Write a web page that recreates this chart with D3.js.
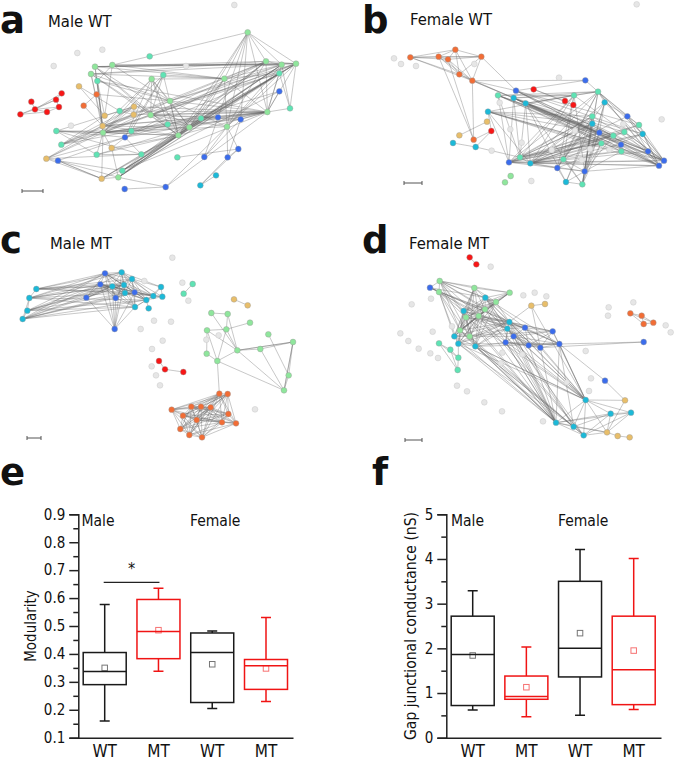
<!DOCTYPE html>
<html><head><meta charset="utf-8">
<script src="https://cdn.jsdelivr.net/npm/d3@7"></script>
<style>html,body{margin:0;padding:0;background:#fff}svg{display:block}
text{font-family:"DejaVu Sans Condensed","DejaVu Sans",sans-serif;font-stretch:condensed;fill:#111}</style></head><body>
<svg id="c" width="675" height="760"><defs><filter id="soft" x="-5%" y="-5%" width="110%" height="110%"><feGaussianBlur stdDeviation="0.3"/></filter></defs></svg>
<script>
// community colours
const palette={G:"#8fe69c",M:"#5fe3b4",B:"#3a6cec",C:"#1ab9d8",T:"#e8be6a",O:"#f26d36",R:"#f81212",X:"#e6e6e6"};

// network a: Male WT
const nodesA=[[743,97,"G"],[798,184,"G"],[845,194,"G"],[888,191,"G"],[838,220,"M"],[285,200,"G"],[337,195,"G"],[273,222,"G"],[455,237,"G"],[490,225,"M"],[673,236,"G"],[510,303,"G"],[452,345,"G"],[802,336,"G"],[870,325,"M"],[681,380,"G"],[568,382,"G"],[535,406,"G"],[309,398,"G"],[355,532,"G"],
[449,169,"M"],[292,243,"M"],[359,333,"M"],[394,393,"M"],[503,373,"M"],[603,355,"M"],[169,393,"M"],[184,434,"M"],[290,464,"M"],[424,463,"M"],[367,512,"M"],[532,472,"M"],
[838,274,"B"],[654,352,"B"],[722,358,"B"],[375,412,"B"],[174,482,"B"],[715,447,"B"],[613,471,"B"],[683,472,"B"],[497,561,"B"],[374,567,"B"],[648,526,"C"],[601,556,"C"],
[237,259,"T"],[402,320,"T"],[314,347,"T"],[401,344,"T"],[308,378,"T"],[335,444,"T"],[139,476,"T"],[305,536,"T"],[290,283,"O"],[251,317,"O"],
[185,280,"R"],[94,305,"R"],[168,299,"R"],[177,321,"R"],[105,328,"R"],[141,336,"R"],[61,343,"R"],
[703,15,"X"],[232,159,"X"],[307,149,"X"],[161,198,"X"],[558,198,"X"],[213,377,"X"]];
const edgesA=[[0,[20,1,2,3,13,15,10,16,17,33,34]],[20,[6]],[5,[3,3,1,10,17,16,12,18,48,2]],[6,[3,2,10,11,21,46]],[7,[2,10,1,17,24,11,18,48]],[8,[10,17,11,16,24,12,18,48,35]],[9,[10,17,35,18,12,23]],
[1,[19,30,17,16,48,35,11,12,13,15,3,2]],[3,[19,30,17,16,18,35,25,11,12,13,14,15]],[2,[19,17,16,18,25,11,13,14,15,10]],[4,[19,30,17,16,48,25,12,13,14,15,10]],[32,[13,35,30]],[14,[13]],
[13,[34,33,25,16,17,35,48,18,12,11,22,47,45,23,10]],[15,[37,39,10,11,12,18]],[10,[16,25,17]],[21,[46,48,18,11,13]],[11,[17,16,18]],[12,[17,16,33,34]],
[18,[17,16,25,33,34,28,51,49,45]],[48,[17,16,25,11]],[19,[51,17,16,25,49,40]],[30,[17,16,25]],[50,[51,36,35,18,45,47,29]],[36,[51,51,19,35,30]],
[26,[18,45,29,28,23,35,17]],[27,[18,48,45,23,46,47,12]],[44,[46,22]],[53,[52,48]],[52,[11]],[28,[29,17,16]],[29,[16,17,35]],[22,[47,46,45]],[47,[45]],[49,[35,17]],[51,[17,16,25,13]],
[41,[40]],[40,[15,13]],[31,[37]],[38,[15,33,34]],[39,[34,37]],[43,[42,39,37]],
[54,[56,58]],[56,[57,58,60]],[55,[58]],[58,[59,60]],[59,[60,57]],[57,[58]]];

// network b: Female WT
const nodesB=[[151,172,"O"],[236,170,"O"],[264,178,"O"],[286,149,"O"],[364,170,"O"],[298,223,"O"],[337,242,"O"],[341,419,"O"],
[676,241,"B"],[468,272,"B"],[802,349,"B"],[718,398,"B"],[783,434,"B"],[864,454,"B"],[912,482,"B"],[897,497,"B"],[447,487,"B"],[592,504,"B"],[674,514,"B"],
[461,294,"C"],[497,310,"C"],[384,335,"C"],[734,307,"C"],[697,371,"C"],[848,402,"C"],[511,490,"C"],[618,546,"C"],[279,429,"C"],[347,441,"C"],
[414,286,"M"],[642,286,"M"],[714,275,"M"],[697,349,"M"],[837,375,"M"],[793,396,"M"],[760,407,"M"],[724,430,"M"],[784,454,"M"],[480,472,"M"],[610,478,"M"],[667,553,"M"],
[521,268,"R"],[615,303,"R"],[640,315,"R"],[394,393,"R"],[381,365,"T"],[298,406,"T"],[452,528,"G"],[435,547,"G"],
[830,13,"X"],[102,175,"X"],[123,192,"X"],[168,198,"X"],[343,192,"X"],[597,233,"X"],[905,358,"X"],[395,452,"X"],[514,543,"X"],[419,308,"X"],[451,388,"X"],[485,428,"X"],[790,372,"X"],[645,392,"X"],[690,447,"X"],[748,449,"X"],[665,480,"X"],[575,450,"X"]];
const edgesB=[[0,[1,2,3,4,5,6]],[1,[3,2,4,5,6,7]],[2,[4,3,5,6,7]],[3,[4,6,5]],[4,[6,5,9]],[5,[6,19]],[6,[7,8,9,19,20]],[8,[9,31]],[45,[46]],[44,[28,7,21]],[27,[28]],[28,[38]],[41,[42,43]],
[19,[13,14,15,35,36,37,11,24,38,16]],[20,[14,15,13,12,11,34,38,25,26,40]],[9,[15,13,24,35,12,33]],[29,[15,14,13,37,35,11,38,16]],[21,[14,15,37,36,35,23,32,30,25,16]],
[30,[25,16,17,18,38,39,14,19,20,29]],[31,[25,16,39,17,40,18,13,15,10,33,24,22,30,19,20,29]],[22,[25,39,18,40,14,10,11]],
[32,[25,16,38,26,17,18,40,14]],[23,[25,16,38,39,26,40,15,13]],[10,[13,14,24,33,25]],[33,[25,15,14,16]],[24,[15,14,16,25,17]],[34,[15,14,25,38,39]],[35,[25,16,38,18]],[36,[25,16,38,40,18]],[37,[25,16,14,15,18]],[12,[25,14,15]],[11,[25,16,38,18,40]],[13,[25,14,15]],[14,[15,25,16]],[15,[25,16,18]],
[16,[25,38,17]],[38,[25]],[25,[17,39,18]],[17,[18,26,39]],[26,[18,40]],[40,[18,39]],[39,[18]]];

// network c: Male MT
const nodesC=[[315,145,"B"],[301,178,"B"],[259,218,"B"],[347,219,"B"],[404,202,"B"],[344,312,"B"],
[109,192,"C"],[88,219,"C"],[82,257,"C"],[68,282,"C"],[365,142,"C"],[396,162,"C"],[337,184,"C"],[372,180,"C"],[375,204,"C"],[483,186,"C"],[460,213,"C"],[487,215,"C"],[439,225,"C"],[405,246,"C"],[446,250,"C"],
[578,177,"M"],[551,206,"M"],[702,223,"T"],[743,241,"T"],
[634,264,"G"],[683,267,"G"],[750,293,"G"],[621,316,"G"],[679,313,"G"],[805,328,"G"],[879,351,"G"],[712,376,"G"],[781,372,"G"],[620,386,"G"],[652,408,"G"],[866,451,"G"],[852,496,"G"],
[477,408,"R"],[495,433,"R"],[550,441,"R"],
[658,506,"O"],[683,507,"O"],[515,554,"O"],[574,545,"O"],[603,545,"O"],[632,547,"O"],[549,572,"O"],[590,585,"O"],[685,567,"O"],[666,592,"O"],[708,595,"O"],[541,612,"O"],[568,630,"O"],[606,637,"O"],
[517,98,"X"],[433,168,"X"],[547,173,"X"],[565,227,"X"],[462,287,"X"],[513,290,"X"],[422,312,"X"],[488,347,"X"],[456,372,"X"],[455,424,"X"],[468,451,"X"],[480,481,"X"],[619,344,"X"],[656,331,"X"],[765,553,"X"]];
const edgesC=[[6,[7,0,1,10,12,13,14,11,4]],[7,[8,9,0,1,12,10,13,14,18,19]],[8,[9,1,0,12,13,14,19,18,11]],[9,[0,1,12,13,14,19,18,4,3]],[0,[10,1,11,12,13,14,4,3,2,5,16,18]],[10,[11,1,12,13,14,4,15,16,18,5]],[11,[12,13,14,4,15,17,16,18,19]],[1,[12,13,14,4,2,3,5,18,19,16]],[12,[13,14,4,3,5,16,18,19,2]],[13,[14,4,3,5,16,18,19]],[14,[4,3,16,18,19,17]],[4,[18,19,16,17,5,3]],[15,[16,17,18]],[16,[17,18,19]],[18,[19,20,17]],[2,[5,12,13]],[3,[5,19]],[19,[5]],
[21,[22]],[23,[24]],[25,[26,32]],[26,[29,32]],[29,[27,28,35,32]],[28,[34,35,32]],[34,[35]],[35,[32,37,41]],[32,[33,31,31,37]],[33,[31,37]],[30,[36]],[31,[36,37,37]],[36,[37]],[38,[39]],[39,[40]],
[41,[42,43,44,45,46,47,48,49,50,51,52,53,54]],[42,[43,44,45,46,47,48,49,50,51,52,53,54]],[43,[44,45,46,47,48,50,52,53,54]],[44,[45,46,47,48,49,50,51,52,53,54]],[45,[46,47,48,49,50,51,52,53,54]],[46,[47,48,49,50,51,52,53,54]],[47,[48,49,50,51,52,53,54]],[48,[49,50,51,52,53,54]],[49,[50,51,52,54]],[50,[51,52,53,54]],[51,[53,54]],[52,[53,54]],[53,[54]]];

// network d: Female MT
const nodesD=[[239,168,"G"],[237,201,"G"],[343,189,"G"],[449,203,"G"],[408,231,"G"],[375,253,"G"],[318,277,"G"],[356,273,"G"],[300,316,"G"],[329,334,"G"],
[210,188,"B"],[495,308,"B"],[578,319,"B"],[461,334,"B"],[437,352,"B"],[506,361,"B"],[541,368,"B"],[598,357,"B"],[851,351,"B"],[735,467,"B"],
[376,218,"C"],[311,258,"C"],[448,291,"C"],[442,311,"C"],[283,334,"C"],[295,356,"C"],[346,364,"C"],[677,525,"C"],[752,566,"C"],[813,563,"C"],[588,593,"C"],[641,605,"C"],[671,631,"C"],
[237,355,"M"],[271,374,"M"],[295,398,"M"],[293,435,"M"],
[514,242,"T"],[555,237,"T"],[795,526,"T"],[741,622,"T"],[773,633,"T"],[809,637,"T"],[329,97,"R"],[349,118,"R"],[811,265,"O"],[845,272,"O"],[851,297,"O"],[880,293,"O"],
[392,125,"X"],[213,221,"X"],[155,238,"X"],[276,304,"X"],[218,320,"X"],[121,325,"X"],[145,348,"X"],[176,371,"X"],[211,385,"X"],[234,399,"X"],[490,211,"X"],[524,203,"X"],[559,214,"X"],[746,247,"X"],[744,272,"X"],[820,232,"X"],[917,301,"X"],[932,322,"X"],[677,378,"X"],[427,383,"X"],[487,388,"X"],[422,415,"X"],[693,460,"X"],[687,498,"X"],[620,472,"X"],[291,482,"X"],[321,499,"X"],[373,532,"X"],[426,559,"X"],[549,589,"X"]];
const edgesD=[[0,[1,2,3,4,5,20,21,6,7,8,9,22]],[1,[21,6,8,9,24,25,5,7]],[10,[0,1,22,23,20,17,5]],[2,[3,4,20,21,5,6,7,8,9,24]],[3,[4,20,5,21,6,7,8]],[4,[20,5,21,6,7,8,9,24,26,22]],[20,[5,21,6,7,8,22,23,17,11,13,30,27]],[5,[21,6,7,8,9,24,25,26,22,23,27,30]],[21,[6,7,8,9,24,25,26,22,23,27,30]],[6,[7,8,9,24,25,26,22,23,11,27,30]],[7,[8,9,24,25,26,22,23,11,12,27,30,32]],[8,[9,24,25,26,22,30,32]],[9,[24,25,26,22,23,13,30,31]],[24,[25,26,22,12,30]],[25,[26,35,30,27,22,23,17,31]],[26,[22,23,27,27,30,30,31,32,17,14]],
[22,[23,11,12,13,14,15,16,17,27,30,31]],[23,[11,13,14,15,16,27,30,32]],[11,[12,13,15,16,17,27]],[12,[13,15,16,17,27]],[13,[14,15,16,17,30,31]],[14,[15,16,17,30,32]],[15,[16,17,30]],[16,[17,27,30,18]],[17,[19,27,27,30,31,18]],[19,[39]],[39,[40,27]],[27,[28,29,30,31,32,40]],[28,[29,30,31,32,40]],[29,[30,32,40]],[30,[31,32,40]],[31,[32,40]],[32,[40]],[40,[41]],[41,[42]],
[33,[34,35,36]],[34,[35,36]],[35,[36]],[37,[38,22,16,27]],[43,[44]],[45,[46,47,48]],[46,[47,48]],[47,[48]]];

// box plots: [low, q1, median, mean, q3, high]
const groups=["WT","MT","WT","MT"];
const boxColors=["#1a1a1a","#f01414","#1a1a1a","#f01414"];
const modularity=[[0.16,0.29,0.337,0.35,0.405,0.577],[0.338,0.383,0.48,0.485,0.595,0.635],[0.205,0.226,0.405,0.363,0.475,0.482],[0.23,0.273,0.358,0.348,0.38,0.53]];
const conductance=[[0.62,0.72,1.86,1.84,2.72,3.29],[0.47,0.86,0.92,1.13,1.38,2.03],[0.5,1.36,2.0,2.34,3.5,4.21],[0.63,0.74,1.52,1.95,2.72,4.01]];
const modTicks=[0.1,0.2,0.3,0.4,0.5,0.6,0.7,0.8,0.9];
const modMinor=[0.15,0.25,0.35,0.45,0.55,0.65,0.75,0.85];
const condTicks=[0,1,2,3,4,5];
const condMinor=[0.5,1.5,2.5,3.5,4.5];

const svg=d3.select("#c");
const labels=[["a",0,33],["b",362,33],["c",0,253],["d",362,253],["e",0,485],["f",372,485]];
svg.selectAll("text.letter").data(labels).join("text").attr("class","letter").attr("x",d=>d[1]).attr("y",d=>d[2]).text(d=>d[0])
 .style("font-family","'DejaVu Sans'").style("font-stretch","normal").style("font-weight","bold").style("font-size","37px").style("fill","#111");

function network(cfg){
  const x=d3.scaleLinear().domain(cfg.dx).range(cfg.rx), y=d3.scaleLinear().domain(cfg.dy).range(cfg.ry);
  const g=svg.append("g");
  const soft=g.append("g").attr("filter","url(#soft)");
  const pairs=cfg.edges.flatMap(([a,bs])=>bs.map(b=>[a,b]));
  soft.selectAll("line").data(pairs).join("line")
   .attr("x1",d=>x(cfg.nodes[d[0]][0])).attr("y1",d=>y(cfg.nodes[d[0]][1]))
   .attr("x2",d=>x(cfg.nodes[d[1]][0])).attr("y2",d=>y(cfg.nodes[d[1]][1]))
   .attr("stroke","#666").attr("stroke-opacity",0.36).attr("stroke-width",1);
  soft.selectAll("circle").data(cfg.nodes).join("circle")
   .attr("cx",d=>x(d[0])).attr("cy",d=>y(d[1])).attr("r",2.9)
   .attr("fill",d=>palette[d[2]]).attr("stroke",d=>d[2]==="X"?"#c4c4c4":"#9a9a9a").attr("stroke-opacity",0.6).attr("stroke-width",0.7);
  g.append("text").attr("x",cfg.title[1]).attr("y",cfg.title[2]).text(cfg.title[0]).style("font-size","16.5px");
  const [bx0,bx1,by]=cfg.bar;
  g.append("path").attr("d",`M${bx0},${by-2}V${by+2}M${bx0},${by}H${bx1}M${bx1},${by-2}V${by+2}`).attr("fill","none").attr("stroke","#555").attr("stroke-width",1);
}
network({nodes:nodesA,edges:edgesA,dx:[0,960],rx:[0,320],dy:[0,600],ry:[0,200],title:["Male WT",48,27],bar:[22,43,191]});
network({nodes:nodesB,edges:edgesB,dx:[0,945],rx:[360,675],dy:[0,600],ry:[0,200],title:["Female WT",410,25],bar:[404,422,183]});
network({nodes:nodesC,edges:edgesC,dx:[0,960],rx:[0,320],dy:[0,675],ry:[225,450],title:["Male MT",50,249],bar:[27,41,438]});
network({nodes:nodesD,edges:edgesD,dx:[0,945],rx:[360,675],dy:[0,675],ry:[225,450],title:["Female MT",409,249],bar:[405,422,440]});

function boxplot(cfg){
  const y=d3.scaleLinear().domain(cfg.domain).range([737.7,514.3]);
  const x=d3.scalePoint().domain(d3.range(4)).range(cfg.centers);
  const g=svg.append("g");
  const major=d3.axisLeft(y).tickValues(cfg.ticks).tickSize(9).tickPadding(4).tickFormat(cfg.fmt);
  const minor=d3.axisLeft(y).tickValues(cfg.minor).tickSize(5).tickFormat("");
  const ax=g.append("g").attr("transform",`translate(${cfg.ax},0)`).call(major);
  g.append("g").attr("transform",`translate(${cfg.ax},0)`).call(minor).select(".domain").remove();
  ax.selectAll("text").style("font-size","15px").style("fill","#111");
  g.selectAll(".tick line,.domain").attr("stroke","#222").attr("stroke-width",1.5);
  const xa=d3.scaleLinear().domain([0,1]).range([cfg.ax,cfg.axEnd]);
  const bottom=d3.axisBottom(xa).tickValues([]).tickSize(0);
  g.append("g").attr("transform","translate(0,737.7)").call(bottom).select(".domain").attr("stroke","#222").attr("stroke-width",1.5);
  const b=g.selectAll("g.b").data(cfg.data).join("g").attr("class","b").attr("transform",(d,i)=>`translate(${x(i)},0)`)
    .attr("stroke",(d,i)=>boxColors[i]).attr("fill","none").attr("stroke-width",1.5);
  b.append("path").attr("d",d=>`M-5,${y(d[0])}H5M0,${y(d[0])}V${y(d[1])}M0,${y(d[4])}V${y(d[5])}M-5,${y(d[5])}H5`);
  b.append("rect").attr("x",-21.5).attr("width",43).attr("y",d=>y(d[4])).attr("height",d=>y(d[1])-y(d[4]));
  b.append("line").attr("x1",-21.5).attr("x2",21.5).attr("y1",d=>y(d[2])).attr("y2",d=>y(d[2]));
  b.append("rect").attr("x",-2.75).attr("width",5.5).attr("y",d=>y(d[3])-2.75).attr("height",5.5).attr("stroke-width",1).attr("stroke-opacity",0.6);
  g.selectAll("text.g").data(groups).join("text").attr("class","g").attr("x",(d,i)=>x(i)).attr("y",757).attr("text-anchor","middle").text(d=>d).style("font-size","17px");
  g.append("text").attr("x",cfg.male).attr("y",526).text("Male").style("font-size","15.5px");
  g.append("text").attr("x",cfg.female).attr("y",526).text("Female").style("font-size","15.5px");
  g.append("text").attr("transform",`translate(${cfg.lx},626) rotate(-90)`).attr("text-anchor","middle").text(cfg.label).style("font-size",cfg.ls);
  return {x,y,g};
}
const E=boxplot({data:modularity,domain:[0.1,0.9],centers:[104.7,266],ax:78.3,axEnd:293,ticks:modTicks,minor:modMinor,fmt:d3.format(".1f"),male:81.5,female:190,label:"Modularity",lx:36,ls:"15px"});
boxplot({data:conductance,domain:[0,5],centers:[472.7,633.7],ax:446.3,axEnd:661,ticks:condTicks,minor:condMinor,fmt:d3.format("d"),male:451,female:558,label:"Gap junctional conductance (nS)",lx:416,ls:"15.5px"});
// significance marker between the two male groups
const sigY=E.y(0.656);
E.g.append("line").attr("x1",E.x(0)-1).attr("x2",E.x(1)+1).attr("y1",sigY).attr("y2",sigY).attr("stroke","#222").attr("stroke-width",1.2);
E.g.append("text").attr("x",(E.x(0)+E.x(1))/2).attr("y",sigY-8).attr("text-anchor","middle").text("*").style("font-size","16px");
</script></body></html>
